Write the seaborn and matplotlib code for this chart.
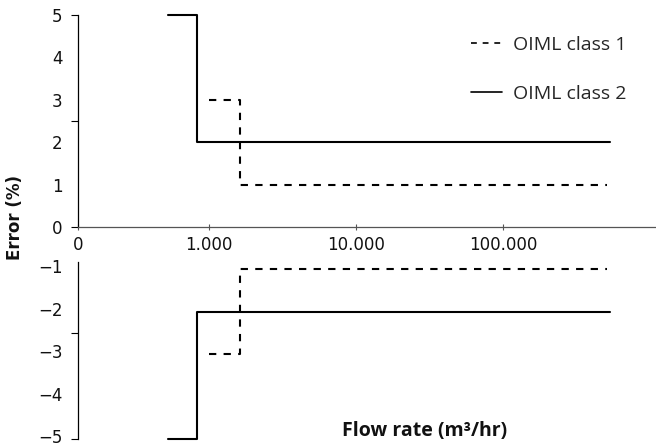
import numpy as np
import pandas as pd
import matplotlib
matplotlib.use('Agg')
import matplotlib.pyplot as plt
import matplotlib.transforms as mtransforms
import seaborn as sns

# accuracy limits: flow rate (m3/hr) vs error (%)
flow_class1 = [1000, 1620, 1620, 510000]
upper_class1 = [3, 3, 1, 1]
lower_class1 = [-3, -3, -1, -1]

flow_class2 = [525, 830, 830, 535000]
upper_class2 = [5, 5, 2, 2]
lower_class2 = [-5, -5, -2, -2]

class_names = ['OIML class 1', 'OIML class 2']

x_ticks = [128, 1000, 10000, 100000]
x_labels = ['0', '1.000', '10.000', '100.000']
y_top_labels = [0, 1, 2, 3, 4, 5]
y_bot_labels = [-1, -2, -3, -4, -5]

sns.set_theme(style='ticks')
plt.rcParams['font.family'] = ['DejaVu Sans']

df = pd.concat([
    pd.DataFrame({'flow': flow_class1, 'upper': upper_class1, 'lower': lower_class1, 'limit': class_names[0]}),
    pd.DataFrame({'flow': flow_class2, 'upper': upper_class2, 'lower': lower_class2, 'limit': class_names[1]}),
], ignore_index=True)

W, H = 656, 446
fig = plt.figure(figsize=(W / 100, H / 100), dpi=100)
ax_top = fig.add_axes([78 / W, 1 - 227 / H, 578 / W, 214 / H])
ax_bot = fig.add_axes([78 / W, 1 - 439 / H, 578 / W, 212 / H], sharex=ax_top)

dashes = {class_names[0]: (3.5, 3.5), class_names[1]: ''}
sns.lineplot(data=df, x='flow', y='upper', style='limit', style_order=class_names, dashes=dashes,
             color='black', estimator=None, sort=False, lw=1.5, ax=ax_top)
sns.lineplot(data=df, x='flow', y='lower', style='limit', style_order=class_names, dashes=dashes,
             color='black', estimator=None, sort=False, lw=1.5, legend=False, ax=ax_bot)

ax_top.set_xscale('log')
ax_top.set_xlim(128, 1.1e6)
ax_top.xaxis.set_minor_locator(matplotlib.ticker.NullLocator())
ax_top.set_xticks(x_ticks)
ax_top.set_xticklabels(x_labels)
ax_top.tick_params(axis='x', direction='inout', length=5, width=0.8, color='#555555',
                   labelsize=12, pad=4, labelcolor='#111111')

ax_top.set_ylim(0, 5.05)
ax_bot.set_ylim(-5.0, 0)
for ax, labels, marks in [(ax_top, y_top_labels, [0, 2.5, 5]), (ax_bot, y_bot_labels, [-5, -2.5])]:
    ax.set_yticks(labels)
    ax.set_yticklabels([str(v).replace('-', '\u2212') for v in labels])
    ax.yaxis.remove_overlapping_locs = False
    ax.set_yticks(marks, minor=True)
    ax.tick_params(axis='y', which='major', length=0, pad=11, labelsize=12, labelcolor='#111111')
    ax.tick_params(axis='y', which='minor', length=5, width=0.8, color='black', direction='out')
    ax.set_xlabel('')
    ax.set_ylabel('')
    ax.spines['right'].set_visible(False)
    ax.spines['top'].set_visible(False)
    ax.spines['left'].set_color('black')
    ax.spines['left'].set_linewidth(0.9)
    ax.set_facecolor('none')
    for line in ax.get_lines():
        line.set_clip_on(False)

# lower tick labels sit a little above their ticks, as in the original
shift_up = mtransforms.ScaledTranslation(0, 3 / 100, fig.dpi_scale_trans)
for lbl in ax_bot.get_yticklabels():
    lbl.set_transform(lbl.get_transform() + shift_up)

ax_top.spines['left'].set_bounds(0, 5)
ax_top.spines['bottom'].set_color('#555555')
ax_top.spines['bottom'].set_linewidth(0.9)
ax_bot.spines['left'].set_bounds(-5, -0.82)
ax_bot.spines['bottom'].set_visible(False)
ax_bot.tick_params(axis='x', bottom=False, labelbottom=False)

leg = ax_top.legend(loc='upper left', bbox_to_anchor=(461 / W, 1 - 26 / H), bbox_transform=fig.transFigure,
                    frameon=False, borderpad=0, handlelength=1.6, handletextpad=0.57, labelspacing=1.6,
                    prop={'family': 'Open Sans', 'size': 14})
for line in leg.get_lines():
    line.set_linewidth(1.2)

fig.text(15 / W, 1 - 217 / H, 'Error (%)', rotation=90, ha='center', va='center',
         fontsize=12, fontweight='bold', color='#111111')
fig.text(425 / W, 1 - 431 / H, 'Flow rate (m\u00b3/hr)', ha='center', va='center',
         fontsize=14, fontweight='bold', family='Open Sans', color='#111111')

fig.savefig('out.png', dpi=100)
